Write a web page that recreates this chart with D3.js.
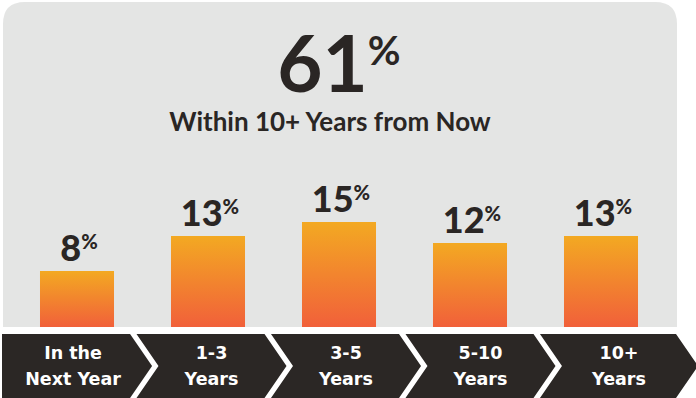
<!DOCTYPE html>
<html>
<head>
<meta charset="utf-8">
<script src="https://cdn.jsdelivr.net/npm/d3@7"></script>
<style>
  html, body { margin: 0; padding: 0; background: #ffffff; }
  svg { display: block; }
</style>
</head>
<body>
<svg id="chart" width="696" height="398"></svg>
<script>
// Timeline categories and their shares (percent)
const categories = ["In the Next Year", "1-3 Years", "3-5 Years", "5-10 Years", "10+ Years"];
const labelLines = [["In the", "Next Year"], ["1-3", "Years"], ["3-5", "Years"], ["5-10", "Years"], ["10+", "Years"]];
const values = [8, 13, 15, 12, 13];
const headlineValue = 61;
const headlineText = "Within 10+ Years from Now";

const svg = d3.select("#chart");
const ink = "#2a2624";

// gradient for the bars
const defs = svg.append("defs");
const grad = defs.append("linearGradient")
  .attr("id", "barGrad").attr("x1", 0).attr("y1", 0).attr("x2", 0).attr("y2", 1);
grad.append("stop").attr("offset", "0%").attr("stop-color", "#f3a922");
grad.append("stop").attr("offset", "100%").attr("stop-color", "#f1603a");

// gray panel with rounded top corners
const panel = { x0: 3, y0: 2, x1: 677, y1: 327, r: 22 };
svg.append("path")
  .attr("d", `M${panel.x0},${panel.y1} V${panel.y0 + panel.r} Q${panel.x0},${panel.y0} ${panel.x0 + panel.r},${panel.y0}
              H${panel.x1 - panel.r} Q${panel.x1},${panel.y0} ${panel.x1},${panel.y0 + panel.r} V${panel.y1} Z`)
  .attr("fill", "#e4e5e4");

// headline
const head = svg.append("text")
  .attr("x", 339).attr("y", 92)
  .attr("text-anchor", "middle")
  .attr("font-family", "Lato, sans-serif").attr("font-weight", 700)
  .attr("fill", ink);
head.append("tspan").attr("font-size", 78).text(headlineValue);
head.append("tspan").attr("font-size", 40).attr("dy", -27).text("%");

svg.append("text")
  .attr("x", 330).attr("y", 131)
  .attr("text-anchor", "middle")
  .attr("font-family", "Lato, sans-serif").attr("font-weight", 700)
  .attr("font-size", 26)
  .attr("fill", ink)
  .text(headlineText);

// scales
const x = d3.scaleBand().domain(categories).range([11.5, 666.5])
  .paddingInner(0.435).paddingOuter(0.2175);
const y = d3.scaleLinear().domain([0, 15]).range([327, 222]);

// bars
svg.append("g").selectAll("rect").data(values).join("rect")
  .attr("x", (d, i) => x(categories[i]))
  .attr("y", d => y(d))
  .attr("width", x.bandwidth())
  .attr("height", d => y(0) - y(d))
  .attr("fill", "url(#barGrad)");

// value labels
const vl = svg.append("g").selectAll("text").data(values).join("text")
  .attr("x", (d, i) => x(categories[i]) + x.bandwidth() / 2 + 2)
  .attr("y", d => y(d) - 10)
  .attr("text-anchor", "middle")
  .attr("font-family", "Lato, sans-serif").attr("font-weight", 900)
  .attr("fill", ink);
vl.append("tspan").attr("font-size", 36).text(d => d);
vl.append("tspan").attr("font-size", 20).attr("dy", -12).text("%");

// chevron band along the bottom
const bandTop = 334, bandBot = 398, mid = (bandTop + bandBot) / 2;
const cx = d3.scaleBand().domain(categories).range([2, 668]).paddingInner(0.048).paddingOuter(0);
const notch = 22;
const chev = svg.append("g");
categories.forEach((c, i) => {
  const l = cx(c);
  const r = l + cx.bandwidth() + (i === categories.length - 1 ? 8 : 0);
  const pts = i === 0
    ? [[l, bandTop], [r, bandTop], [r + notch, mid], [r, bandBot], [l, bandBot]]
    : [[l, bandTop], [r, bandTop], [r + notch, mid], [r, bandBot], [l, bandBot], [l + notch, mid]];
  chev.append("polygon")
    .attr("points", pts.map(p => p.join(",")).join(" "))
    .attr("fill", "#2b2725");
  const tx = (l + r + notch) / 2 - (i === 0 ? 4 : 0);
  const t = chev.append("text")
    .attr("x", tx).attr("y", 359)
    .attr("text-anchor", "middle")
    .attr("font-family", "'DejaVu Sans', sans-serif").attr("font-weight", 700)
    .attr("font-size", 17.5)
    .attr("fill", "#ffffff");
  labelLines[i].forEach((line, k) => {
    t.append("tspan").attr("x", tx).attr("dy", k === 0 ? 0 : 26).text(line);
  });
});
</script>
</body>
</html>
